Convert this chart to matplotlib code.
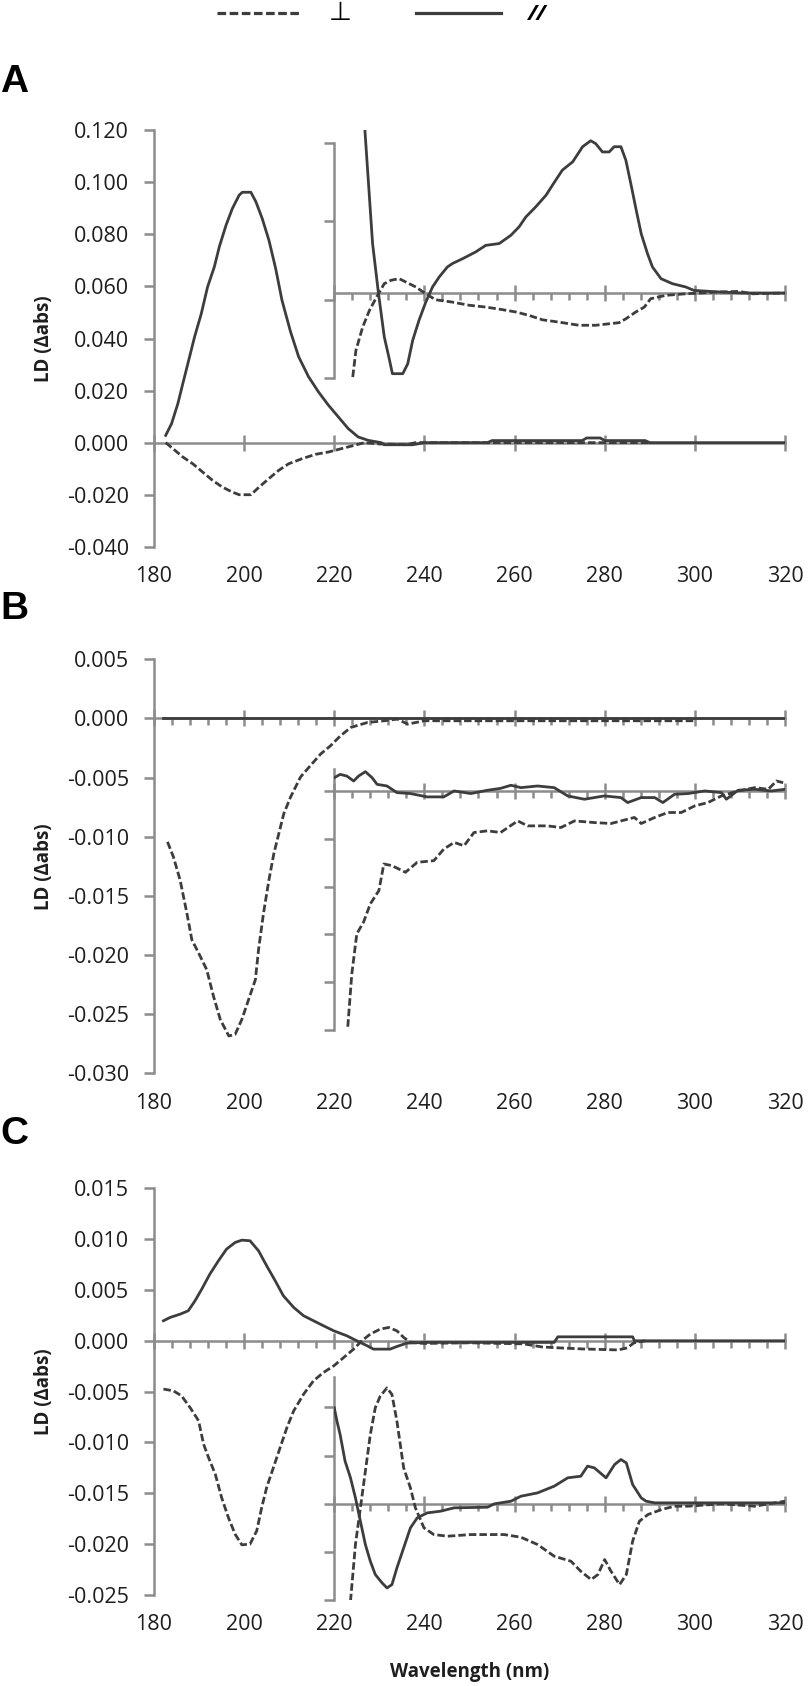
"""
Linear dichroism spectra, three panels (A, B, C) with a magnified near-UV inset in each.
Saves out.png (810 x 1686 px).
"""

import matplotlib
matplotlib.use('Agg')
import matplotlib.pyplot as plt
from matplotlib.lines import Line2D
from matplotlib.ticker import MultipleLocator, FixedLocator, FormatStrFormatter, NullFormatter

plt.rcParams.update({
    'font.family': ['Open Sans', 'DejaVu Sans'],
    'axes.unicode_minus': False,
})

AXIS_GREY = '#8c8c8c'
LINE_DARK = '#3d3d3d'
TEXT_DARK = '#1e1e1e'
DASH = (0, (2.7, 1.1))

WL_TICKS = [180, 200, 220, 240, 260, 280, 300, 320]

# ---------------- panel A ----------------
A_YTICKS = [-0.040, -0.020, 0.000, 0.020, 0.040, 0.060, 0.080, 0.100, 0.120]

A_par_wl = [182.6, 183.9, 185.3, 186.4, 187.9, 189.0, 190.5, 191.9, 193.4, 194.5, 196.0, 197.4,
            198.9, 199.6, 201.5, 202.6, 204.0, 205.5, 207.0, 208.4, 210.3, 212.1, 214.3, 216.5,
            218.7, 220.9, 223.1, 225.3, 227.5, 230.4, 231.1, 237.4, 240.0, 254.0, 255.0, 275.0,
            276.0, 279.0, 280.0, 289.0, 290.0, 320.0]
A_par_ld = [0.0028, 0.0073, 0.0150, 0.0227, 0.0330, 0.0406, 0.0496, 0.0599, 0.0676, 0.0753, 0.0836, 0.0900,
            0.0951, 0.0962, 0.0962, 0.0926, 0.0862, 0.0778, 0.0669, 0.0547, 0.0426, 0.0330, 0.0253, 0.0195,
            0.0144, 0.0099, 0.0054, 0.0022, 0.0009, 0.0, -0.0008, -0.0008, 0.0, 0.0, 0.0008, 0.0008,
            0.0018, 0.0018, 0.0008, 0.0008, 0.0, 0.0]

A_perp_wl = [182.6, 184.2, 186.4, 188.6, 190.8, 193.0, 195.2, 197.4, 198.9, 201.5, 203.3, 205.5,
             207.7, 209.9, 212.8, 215.8, 218.7, 221.6, 224.5, 226.7, 230.0, 236.0, 238.0, 290.0]
A_perp_ld = [0.0, -0.0023, -0.0055, -0.0081, -0.0113, -0.0145, -0.0171, -0.0190, -0.0200, -0.0200, -0.0171, -0.0138,
             -0.0106, -0.0081, -0.0062, -0.0045, -0.0036, -0.0023, -0.0010, 0.0, -0.0005, -0.0008, 0.0, 0.0]

# inset A (values relative to the inset baseline)
A_ins_par_wl = [226.8, 228.5, 229.8, 231.1, 232.2, 232.9, 235.2, 236.3, 237.4, 238.8, 240.3, 241.8,
                243.3, 245.1, 246.2, 248.5, 251.4, 253.6, 256.6, 259.2, 261.0, 262.5, 264.7, 267.0,
                268.4, 270.6, 272.9, 275.1, 276.9, 278.0, 279.5, 281.0, 282.1, 283.6, 284.7, 285.8,
                287.0, 288.1, 289.5, 290.6, 292.5, 295.0, 298.0, 299.8, 305.4, 310.5, 320.0]
A_ins_par_ld = [0.0625, 0.0190, 0.0, -0.0169, -0.0253, -0.0310, -0.0310, -0.0272, -0.0182, -0.0105, -0.0035, 0.0023,
                0.0062, 0.0100, 0.0113, 0.0132, 0.0158, 0.0183, 0.0190, 0.0222, 0.0254, 0.0292, 0.0331, 0.0376,
                0.0414, 0.0472, 0.0504, 0.0562, 0.0585, 0.0574, 0.0542, 0.0542, 0.0562, 0.0562, 0.0510, 0.0420,
                0.0318, 0.0228, 0.0151, 0.0100, 0.0055, 0.0036, 0.0023, 0.0010, 0.0004, 0.0, 0.0]

A_ins_perp_wl = [224.1, 224.8, 226.3, 227.8, 229.6, 231.1, 232.6, 234.4, 235.9, 238.1, 240.3, 242.5,
                 246.2, 249.9, 253.6, 257.3, 260.3, 263.2, 266.2, 269.9, 274.3, 278.0, 283.2, 284.7,
                 286.9, 288.8, 290.2, 293.6, 298.0, 305.4, 309.8, 312.8, 320.0]
A_ins_perp_ld = [-0.0323, -0.0221, -0.0131, -0.0067, -0.0009, 0.0036, 0.0049, 0.0055, 0.0042, 0.0023, -0.0003, -0.0026,
                 -0.0035, -0.0047, -0.0054, -0.0064, -0.0073, -0.0086, -0.0103, -0.0112, -0.0124, -0.0124, -0.0114, -0.0099,
                 -0.0073, -0.0054, -0.0022, -0.0009, -0.0003, 0.0004, 0.0006, -0.0003, 0.0]

# ---------------- panel B ----------------
B_YTICKS = [-0.030, -0.025, -0.020, -0.015, -0.010, -0.005, 0.000, 0.005]

B_par_wl = [182.0, 250.0, 320.0]
B_par_ld = [0.0, 0.0, 0.0]

B_perp_wl = [183.0, 184.3, 185.8, 187.3, 188.4, 189.9, 191.7, 193.2, 194.7, 196.6, 198.0, 199.5,
             201.0, 202.5, 203.2, 204.3, 205.5, 206.6, 207.7, 208.8, 210.3, 212.5, 214.4, 217.0,
             219.2, 221.4, 223.7, 227.4, 231.1, 234.0, 236.3, 240.0, 260.0, 280.0, 300.0]
B_perp_ld = [-0.01043, -0.01169, -0.01366, -0.01646, -0.01870, -0.01982, -0.02123, -0.02347, -0.02543, -0.02683, -0.02670, -0.02543,
             -0.02375, -0.02207, -0.01954, -0.01646, -0.01366, -0.01141, -0.00973, -0.00805, -0.00665, -0.00496, -0.00412, -0.00300,
             -0.00230, -0.00146, -0.00076, -0.00034, -0.00020, -0.00006, -0.00048, -0.00020, -0.00020, -0.00020, -0.00020]

B_ins_par_wl = [220.0, 221.3, 222.8, 224.3, 225.4, 226.9, 228.4, 229.5, 231.7, 233.9, 236.9, 240.6, 244.3,
                246.6, 250.3, 254.0, 256.9, 259.2, 261.4, 265.1, 268.8, 271.8, 275.5, 279.9, 283.6, 285.1,
                288.1, 291.1, 292.9, 295.5, 298.5, 302.2, 305.9, 307.0, 309.6, 313.3, 317.0, 320.0]
B_ins_par_ld = [0.00112, 0.00140, 0.00126, 0.00084, 0.00126, 0.00163, 0.00112, 0.00056, 0.00042, -0.00014, -0.00022, -0.00050, -0.00050,
                0.0, -0.00022, 0.00006, 0.00022, 0.00048, 0.00028, 0.00042, 0.00028, -0.00042, -0.00070, -0.00042, -0.00056, -0.00098,
                -0.00056, -0.00056, -0.00098, -0.00028, -0.00022, 0.0, -0.00014, -0.00070, 0.00006, 0.00014, 0.0, 0.00014]

B_ins_perp_wl = [223.0, 223.9, 225.0, 226.5, 228.0, 229.9, 231.0, 232.8, 235.8, 238.4, 242.1, 244.3, 246.6,
                 248.8, 251.0, 254.0, 256.9, 260.7, 262.9, 267.3, 270.3, 273.3, 277.7, 281.4, 286.6, 288.1,
                 291.1, 294.0, 297.0, 300.0, 302.9, 305.9, 309.6, 313.3, 316.3, 318.1, 319.6]
B_ins_perp_ld = [-0.01992, -0.01543, -0.01207, -0.01108, -0.00954, -0.00842, -0.00617, -0.00631, -0.00687, -0.00603, -0.00589, -0.00491, -0.00435,
                 -0.00463, -0.00351, -0.00337, -0.00351, -0.00253, -0.00295, -0.00295, -0.00309, -0.00253, -0.00267, -0.00275, -0.00224, -0.00275,
                 -0.00224, -0.00182, -0.00182, -0.00126, -0.00098, -0.00042, 0.0, 0.00028, 0.00014, 0.00084, 0.00070]

# ---------------- panel C ----------------
C_YTICKS = [-0.025, -0.020, -0.015, -0.010, -0.005, 0.000, 0.005, 0.010, 0.015]

C_par_wl = [182.1, 183.6, 185.8, 187.6, 189.1, 190.6, 192.4, 194.3, 196.1, 198.0, 199.5, 201.3,
            203.2, 205.0, 206.9, 208.7, 211.0, 213.2, 215.4, 217.6, 219.9, 222.8, 225.0, 227.3,
            228.7, 232.4, 233.9, 236.1, 239.9, 268.8, 269.6, 286.2, 286.6, 320.0]
C_par_ld = [0.00197, 0.00230, 0.00262, 0.00295, 0.00393, 0.00508, 0.00656, 0.00787, 0.00902, 0.00967, 0.00990, 0.00984,
            0.00885, 0.00738, 0.00590, 0.00443, 0.00328, 0.00246, 0.00197, 0.00148, 0.00098, 0.00049, 0.0, -0.00049,
            -0.00082, -0.00082, -0.00056, -0.00023, -0.00016, -0.00016, 0.00039, 0.00039, 0.0, 0.0]

C_perp_wl = [182.1, 184.3, 186.1, 188.0, 189.9, 191.0, 192.1, 193.6, 195.0, 196.5, 198.0, 199.5, 201.3,
             202.8, 203.9, 205.0, 206.5, 208.0, 209.5, 211.0, 213.2, 215.4, 217.6, 219.9, 222.1, 224.3,
             226.1, 228.0, 230.2, 232.1, 233.9, 235.4, 236.9, 239.9, 250.0, 262.0, 266.0, 270.0, 275.0,
             283.0, 285.0, 286.5, 289.0]
C_perp_ld = [-0.00475, -0.00492, -0.00541, -0.00656, -0.00787, -0.01016, -0.01148, -0.01312, -0.01541, -0.01738, -0.01902, -0.02007, -0.02000,
             -0.01869, -0.01640, -0.01443, -0.01246, -0.01049, -0.00853, -0.00689, -0.00525, -0.00393, -0.00312, -0.00246, -0.00164, -0.00082,
             0.0, 0.00066, 0.00115, 0.00131, 0.00098, 0.00033, -0.00016, -0.00026, -0.00020, -0.00030, -0.00060, -0.00070, -0.00080,
             -0.00090, -0.00070, -0.00020, 0.0]

C_ins_par_wl = [220.0, 220.6, 221.3, 222.4, 223.6, 224.7, 225.8, 226.9, 228.0, 229.1, 230.6, 231.7, 232.8,
                233.9, 235.4, 236.9, 238.4, 240.6, 243.6, 246.6, 254.0, 255.5, 259.2, 261.4, 265.1, 268.8,
                271.8, 274.7, 276.2, 277.7, 280.3, 282.2, 283.6, 284.8, 286.2, 288.1, 289.2, 291.1, 320.0]
C_ins_par_ld = [0.00945, 0.00813, 0.00682, 0.00420, 0.00256, 0.00059, -0.00171, -0.00400, -0.00564, -0.00695, -0.00777, -0.00827, -0.00794,
                -0.00630, -0.00433, -0.00236, -0.00138, -0.00089, -0.00072, -0.00039, -0.00033, 0.0, 0.00026, 0.00075, 0.00108, 0.00174,
                0.00256, 0.00272, 0.00371, 0.00354, 0.00256, 0.00387, 0.00436, 0.00403, 0.00190, 0.00059, 0.00026, 0.00010, 0.00010]

C_ins_perp_wl = [223.6, 224.7, 225.8, 226.9, 228.0, 229.1, 230.2, 231.7, 232.8, 233.9, 235.4, 236.9, 238.0,
                 239.9, 242.1, 245.1, 250.3, 257.7, 261.4, 265.1, 268.8, 272.5, 274.7, 277.0, 278.5, 280.0,
                 281.4, 283.3, 284.8, 286.2, 287.7, 289.6, 292.6, 295.5, 298.5, 305.9, 313.3, 320.0]
C_ins_perp_ld = [-0.00958, -0.00400, -0.00039, 0.00321, 0.00682, 0.00945, 0.01060, 0.01141, 0.01076, 0.00813, 0.00354, 0.00157, -0.00039,
                 -0.00236, -0.00302, -0.00318, -0.00302, -0.00302, -0.00328, -0.00400, -0.00515, -0.00564, -0.00663, -0.00745, -0.00695, -0.00548,
                 -0.00663, -0.00794, -0.00695, -0.00367, -0.00171, -0.00105, -0.00056, -0.00023, -0.00023, 0.0, -0.00023, 0.00026]

# panel settings: axes rect (fig fraction), inset baseline in main units, inset y range, inset ticks
PANELS = [
    dict(letter='A', rect=[0.1901, 0.6757, 0.7790, 0.2470], yticks=A_YTICKS, minor=False,
         main=[(A_perp_wl, A_perp_ld, True), (A_par_wl, A_par_ld, False)],
         ins=[(A_ins_perp_wl, A_ins_perp_ld, True), (A_ins_par_wl, A_ins_par_ld, False)],
         ins_zero=0.0575, ins_ylim=(-0.0325, 0.0625), ins_spine=(-0.0325, 0.0575),
         ins_ticks=[-0.0325, -0.0025, 0.0275, 0.0575], letter_y=82),
    dict(letter='B', rect=[0.1901, 0.3633, 0.7790, 0.2457], yticks=B_YTICKS, minor=True,
         main=[(B_perp_wl, B_perp_ld, True), (B_par_wl, B_par_ld, False)],
         ins=[(B_ins_perp_wl, B_ins_perp_ld, True), (B_ins_par_wl, B_ins_par_ld, False)],
         ins_zero=-0.00613, ins_ylim=(-0.0202, 0.00187), ins_spine=(-0.0202, 0.00187),
         ins_ticks=[-0.0202, -0.01616, -0.01212, -0.00808, -0.00404, 0.0], letter_y=609),
    dict(letter='C', rect=[0.1901, 0.0540, 0.7790, 0.2412], yticks=C_YTICKS, minor=True,
         main=[(C_perp_wl, C_perp_ld, True), (C_par_wl, C_par_ld, False)],
         ins=[(C_ins_perp_wl, C_ins_perp_ld, True), (C_ins_par_wl, C_ins_par_ld, False)],
         ins_zero=-0.01604, ins_ylim=(-0.0095, 0.01243), ins_spine=(-0.0095, 0.01243),
         ins_ticks=[-0.0095, -0.00475, 0.0, 0.00475, 0.0095], letter_y=1134),
]

FIG_W, FIG_H = 810, 1686


def style_spines(ax, minor):
    ax.spines['top'].set_visible(False)
    ax.spines['right'].set_visible(False)
    for side in ('left', 'bottom'):
        ax.spines[side].set_color(AXIS_GREY)
        ax.spines[side].set_linewidth(1.8)
    ax.spines['bottom'].set_position(('data', 0))
    ax.xaxis.set_major_locator(FixedLocator(WL_TICKS))
    if minor:
        ax.xaxis.set_minor_locator(MultipleLocator(4))
    ax.tick_params(axis='x', which='major', direction='inout', length=12, width=1.8,
                   color=AXIS_GREY, labelbottom=False)
    ax.tick_params(axis='x', which='minor', direction='out', length=5, width=1.8,
                   color=AXIS_GREY, labelbottom=False)
    ax.tick_params(axis='y', which='major', direction='out', length=7, width=1.8,
                   color=AXIS_GREY)


def draw_series(ax, series):
    for wl, ld, dashed in series:
        ax.plot(wl, ld, color=LINE_DARK, lw=2.0, zorder=3,
                linestyle=DASH if dashed else '-')


fig = plt.figure(figsize=(FIG_W / 100, FIG_H / 100), dpi=100)
fig.patch.set_facecolor('white')

for p in PANELS:
    ax = fig.add_axes(p['rect'])
    ax.patch.set_alpha(0)
    yt = p['yticks']
    ax.set_xlim(180, 320)
    ax.set_ylim(yt[0], yt[-1])
    style_spines(ax, p['minor'])
    ax.yaxis.set_major_locator(FixedLocator(yt))
    ax.yaxis.set_major_formatter(FormatStrFormatter('%.3f'))
    ax.tick_params(axis='y', labelsize=15.5, labelcolor=TEXT_DARK, pad=11)
    draw_series(ax, p['main'])

    # wavelength labels sit at the bottom of the plot area
    sec = ax.secondary_xaxis(0)
    sec.set_xticks(WL_TICKS)
    sec.spines['bottom'].set_visible(False)
    sec.tick_params(axis='x', length=0, pad=14, labelsize=15.5, labelcolor=TEXT_DARK)

    ax.set_ylabel('LD (Δabs)', fontsize=13.5, fontweight='bold', color=TEXT_DARK)
    ax.yaxis.set_label_coords(-0.1585, 0.5)

    # magnified inset, same wavelength scale
    z = p['ins_zero']
    lo, hi = p['ins_ylim']
    ins = ax.inset_axes([220, z + lo, 100, hi - lo], transform=ax.transData)
    ins.patch.set_alpha(0)
    ins.set_xlim(220, 320)
    ins.set_ylim(lo, hi)
    style_spines(ins, True)
    ins.spines['left'].set_bounds(*p['ins_spine'])
    ins.yaxis.set_major_locator(FixedLocator(p['ins_ticks']))
    ins.yaxis.set_major_formatter(NullFormatter())
    draw_series(ins, p['ins'])

    fig.text(0.0, 1 - p['letter_y'] / FIG_H, p['letter'], fontsize=28, fontweight='bold',
             family=['Liberation Sans', 'DejaVu Sans'], color='black', ha='left', va='center')

fig.text(469.5 / FIG_W, 1 - 1672 / FIG_H, 'Wavelength (nm)', fontsize=13.5, fontweight='bold',
         color=TEXT_DARK, ha='center', va='center')

handles = [Line2D([], [], color=LINE_DARK, lw=2.3, linestyle=DASH),
           Line2D([], [], color=LINE_DARK, lw=2.3)]
leg = fig.legend(handles, ['⊥', '//'], ncol=2, loc='center left',
                 bbox_to_anchor=(216.7 / FIG_W, 1 - 14 / FIG_H), frameon=False, fontsize=16,
                 handlelength=3.83, handletextpad=1.2, columnspacing=2.9,
                 borderpad=0, borderaxespad=0)
for t in leg.get_texts():
    t.set_color('black')
leg.get_texts()[0].set_fontsize(19)
leg.get_texts()[1].set_style('italic')
leg.get_texts()[1].set_fontweight('bold')

fig.savefig('out.png', dpi=100, facecolor='white')
